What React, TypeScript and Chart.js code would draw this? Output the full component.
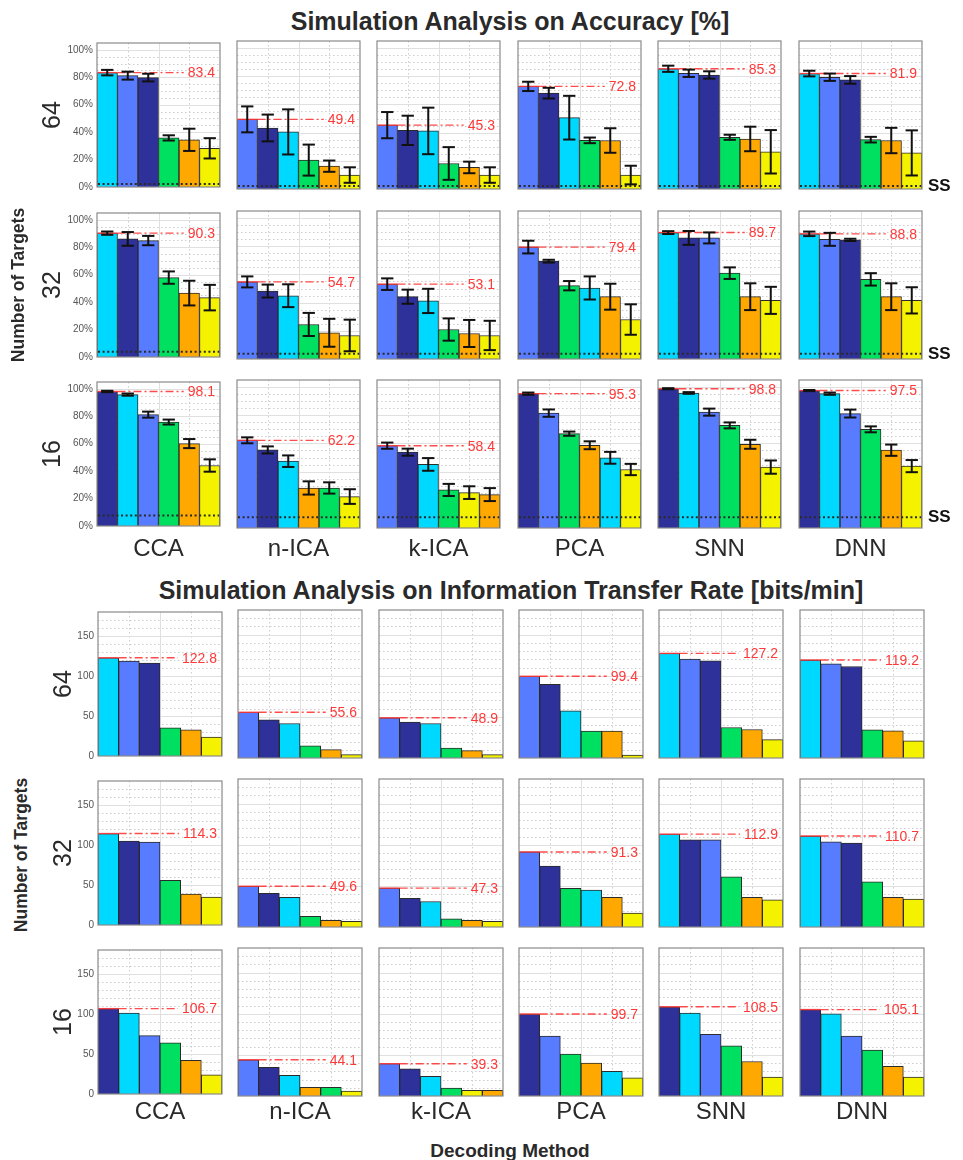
import React, { useEffect, useRef } from 'react';
import { Chart, registerables } from 'chart.js';

Chart.register(...registerables);

const FONT = '"Liberation Sans", Arial, Helvetica, sans-serif';
Chart.defaults.font.family = FONT;

// ---------------- data ----------------
const methods = ['CCA', 'n-ICA', 'k-ICA', 'PCA', 'SNN', 'DNN'];
const targetRows = ['64', '32', '16'];
const barSlots = ['1', '2', '3', '4', '5', '6'];
const ssLevels = [2.1, 3.8, 7.7];

// colour keys per panel (C cyan, B blue, N navy, G green, O orange, Y yellow)
const colors64 = ['CBNGOY', 'BNCGOY', 'BNCGOY', 'BNCGOY', 'CBNGOY', 'CBNGOY'];
const colors32 = ['CNBGOY', 'BNCGOY', 'BNCGOY', 'BNGCOY', 'CNBGOY', 'CBNGOY'];
const colors16 = ['NCBGOY', 'BNCOGY', 'BNCGYO', 'NBGOCY', 'NCBGOY', 'NCBGOY'];

// accuracy means [%]
const acc64 = [
  [83.4, 81.2, 79.8, 35.8, 34.4, 28.2],
  [49.4, 43.3, 40.5, 20.5, 16.2, 9.9],
  [45.3, 41.6, 41.2, 18.1, 15.3, 9.9],
  [72.8, 68.0, 50.6, 34.5, 34.4, 9.9],
  [85.3, 82.1, 80.9, 36.7, 35.5, 26.4],
  [81.9, 79.3, 77.4, 35.0, 34.4, 25.6],
];
const acc32 = [
  [90.3, 86.1, 84.9, 57.9, 46.6, 43.3],
  [54.7, 48.2, 44.9, 24.5, 18.6, 16.7],
  [53.1, 44.2, 41.2, 20.9, 18.1, 16.7],
  [79.4, 69.4, 52.0, 50.4, 44.2, 28.0],
  [89.7, 85.9, 85.9, 60.9, 44.2, 41.6],
  [88.8, 84.9, 84.5, 56.5, 44.2, 41.6],
];
const acc16 = [
  [98.1, 95.8, 81.2, 75.8, 60.1, 44.1],
  [62.2, 55.4, 47.4, 28.4, 28.4, 22.3],
  [58.4, 53.8, 45.1, 27.0, 25.1, 23.7],
  [95.3, 81.5, 66.9, 58.7, 49.8, 41.5],
  [98.8, 95.8, 82.2, 72.8, 59.4, 43.2],
  [97.5, 95.3, 81.2, 70.0, 55.2, 43.9],
];
// accuracy error half-lengths [%]
const err64 = [
  [2.0, 2.9, 2.8, 1.9, 8.1, 7.4],
  [9.2, 9.5, 16.0, 11.0, 4.0, 5.5],
  [9.3, 10.4, 16.5, 11.6, 4.1, 5.5],
  [3.3, 3.8, 15.5, 2.0, 8.7, 6.6],
  [2.2, 2.6, 2.6, 1.8, 8.7, 15.4],
  [2.0, 2.6, 2.7, 2.0, 9.0, 16.0],
];
const err32 = [
  [1.2, 5.0, 3.4, 4.5, 9.0, 9.3],
  [3.9, 4.6, 8.1, 8.2, 9.9, 11.2],
  [4.1, 5.0, 8.6, 7.9, 9.6, 10.4],
  [4.5, 1.0, 3.3, 8.2, 9.2, 10.8],
  [1.0, 4.9, 3.9, 4.1, 9.5, 9.6],
  [1.6, 4.6, 0.8, 4.4, 9.5, 9.3],
];
const err16 = [
  [0.5, 0.8, 2.2, 1.8, 3.3, 4.5],
  [2.1, 2.5, 4.1, 4.7, 4.0, 5.2],
  [2.2, 2.5, 4.5, 4.3, 4.5, 4.6],
  [0.8, 2.6, 1.5, 2.8, 4.2, 4.0],
  [0.4, 0.6, 2.5, 2.1, 3.2, 4.7],
  [0.4, 0.8, 2.8, 2.1, 4.0, 4.3],
];
// ITR [bits/min]
const itr64 = [
  [122.8, 118.6, 116.2, 35.1, 32.6, 23.6],
  [55.6, 46.5, 42.0, 14.7, 10.2, 4.1],
  [48.9, 43.6, 42.0, 12.2, 9.0, 4.1],
  [99.4, 89.7, 57.5, 32.8, 32.6, 3.7],
  [127.2, 120.3, 118.2, 37.1, 34.7, 22.4],
  [119.2, 114.6, 111.3, 34.2, 33.0, 20.8],
];
const itr32 = [
  [114.3, 104.8, 103.5, 55.9, 38.8, 35.0],
  [49.6, 41.0, 36.0, 13.0, 8.0, 7.0],
  [47.3, 35.0, 31.0, 10.0, 8.0, 7.0],
  [91.3, 74.0, 47.0, 45.0, 36.0, 17.0],
  [112.9, 106.0, 106.0, 61.0, 36.0, 33.0],
  [110.7, 103.5, 102.0, 55.0, 36.0, 34.0],
];
const itr16 = [
  [106.7, 101.0, 73.0, 64.0, 42.0, 24.0],
  [44.1, 35.0, 25.0, 10.5, 10.5, 6.0],
  [39.3, 33.0, 24.0, 9.5, 7.0, 7.0],
  [99.7, 73.0, 51.0, 40.0, 30.0, 22.0],
  [108.5, 101.0, 75.0, 61.0, 42.0, 23.0],
  [105.1, 100.0, 73.0, 56.0, 36.0, 23.0],
];

// ---------------- styles ----------------
const PALETTE: Record<string, string> = {
  C: '#00D9FF',
  B: '#587CFF',
  N: '#2E3199',
  G: '#00E060',
  O: '#FFA800',
  Y: '#F5F200',
};

const LEFT = 44;
const PAD_T = 8;
const PAD_B = 8;
const PAD_R = 2;

const ACC_LEFTS = [97, 237, 377, 518, 658, 799];
const ACC_TOPS = [41, 211, 380];
const ACC_W = 123;
const ACC_H = 148;

const ITR_LEFTS = [98, 238, 379, 519, 659, 800];
const ITR_TOPS = [610, 779, 948];
const ITR_W = 124;
const ITR_H = 148;

type PanelProps = {
  left: number;
  top: number;
  width: number;
  height: number;
  values: number[];
  errors?: number[];
  colorKeys: string;
  yMax: number;
  major: number;
  minor: number;
  showTicks: boolean;
  percent: boolean;
  ss?: number;
};

function Panel(p: PanelProps) {
  const ref = useRef<HTMLCanvasElement>(null);
  const w = p.width + LEFT + PAD_R;
  const h = p.height + PAD_T + PAD_B;

  useEffect(() => {
    if (!ref.current) return;
    const hline = (ctx: CanvasRenderingContext2D, x1: number, x2: number, y: number) => {
      ctx.beginPath();
      ctx.moveTo(x1, y);
      ctx.lineTo(x2, y);
      ctx.stroke();
    };
    const vline = (ctx: CanvasRenderingContext2D, x: number, y1: number, y2: number) => {
      ctx.beginPath();
      ctx.moveTo(x, y1);
      ctx.lineTo(x, y2);
      ctx.stroke();
    };
    const decor = {
      id: 'decor',
      beforeDatasetsDraw(chart: any) {
        const { ctx, chartArea: a } = chart;
        const y = chart.scales.y;
        ctx.save();
        ctx.lineWidth = 1;
        // minor horizontal grid
        ctx.strokeStyle = '#cdcdcd';
        ctx.setLineDash([1.5, 2.5]);
        for (let k = 1; k * p.minor < p.yMax - 1e-6; k++) {
          const v = k * p.minor;
          if (Math.abs(v / p.major - Math.round(v / p.major)) < 1e-6) continue;
          const py = Math.round(y.getPixelForValue(v)) + 0.5;
          hline(ctx, a.left, a.right, py);
        }
        // minor vertical grid
        [0.25, 0.75].forEach((f) => {
          const px = Math.round(a.left + (a.right - a.left) * f) + 0.5;
          vline(ctx, px, a.top, a.bottom);
        });
        // major grid
        ctx.setLineDash([]);
        ctx.strokeStyle = '#e0e0e0';
        for (let k = 1; k * p.major < p.yMax - 1e-6; k++) {
          const py = Math.round(y.getPixelForValue(k * p.major)) + 0.5;
          hline(ctx, a.left, a.right, py);
        }
        const mx = Math.round(a.left + (a.right - a.left) * 0.5) + 0.5;
        vline(ctx, mx, a.top, a.bottom);
        ctx.restore();
      },
      afterDatasetsDraw(chart: any) {
        const { ctx, chartArea: a } = chart;
        const y = chart.scales.y;
        const meta = chart.getDatasetMeta(0);
        ctx.save();
        // red best-value line
        const best = p.values[0];
        const by = y.getPixelForValue(best);
        const b0 = meta.data[0];
        const label = best.toFixed(1);
        ctx.font = `14px ${FONT}`;
        const tw = ctx.measureText(label).width;
        const tx = a.right - 5;
        ctx.strokeStyle = 'rgba(255,55,55,0.9)';
        ctx.lineWidth = 1.4;
        hline(ctx, b0.x - b0.width / 2, b0.x + b0.width / 2, by);
        ctx.setLineDash([8, 3, 2, 3]);
        hline(ctx, b0.x + b0.width / 2, tx - tw - 4, by);
        ctx.setLineDash([]);
        ctx.fillStyle = '#FF3838';
        ctx.textAlign = 'right';
        ctx.textBaseline = 'middle';
        ctx.fillText(label, tx, by + 1);

        // error bars
        if (p.errors) {
          ctx.strokeStyle = '#111';
          ctx.lineWidth = 2;
          meta.data.forEach((bar: any, i: number) => {
            const e = p.errors![i];
            const y1 = y.getPixelForValue(p.values[i] + e);
            const y2 = y.getPixelForValue(p.values[i] - e);
            const cw = bar.width * 0.3;
            vline(ctx, bar.x, y1, y2);
            hline(ctx, bar.x - cw, bar.x + cw, y1);
            hline(ctx, bar.x - cw, bar.x + cw, y2);
          });
        }
        // chance (SS) line
        if (p.ss !== undefined) {
          const sy = y.getPixelForValue(p.ss);
          ctx.strokeStyle = '#2a2a2a';
          ctx.lineWidth = 2;
          ctx.setLineDash([2, 2.6]);
          hline(ctx, a.left + 1, a.right, sy);
          ctx.setLineDash([]);
        }
        // frame
        ctx.strokeStyle = '#8a8a8a';
        ctx.lineWidth = 1.2;
        ctx.strokeRect(a.left, a.top, a.right - a.left, a.bottom - a.top);
        ctx.restore();
      },
    };

    const chart = new Chart(ref.current, {
      type: 'bar',
      data: {
        labels: barSlots,
        datasets: [
          {
            data: p.values,
            backgroundColor: p.colorKeys.split('').map((k) => PALETTE[k]),
            borderColor: '#2b2b2b',
            borderWidth: 1,
            barPercentage: 1,
            categoryPercentage: 1,
          },
        ],
      },
      options: {
        animation: false,
        responsive: false,
        devicePixelRatio: 1,
        layout: { padding: { top: PAD_T, bottom: PAD_B, left: 0, right: PAD_R } },
        plugins: {
          legend: { display: false },
          tooltip: { enabled: false },
          title: { display: false },
        },
        scales: {
          x: { display: false },
          y: {
            min: 0,
            max: p.yMax,
            grid: { display: false, drawTicks: false },
            border: { display: false },
            ticks: {
              display: p.showTicks,
              stepSize: p.major,
              includeBounds: false,
              padding: 4,
              color: '#555',
              font: { size: 10, family: FONT },
              callback: (v: any) => {
                const n = Number(v);
                if (Math.abs(n / p.major - Math.round(n / p.major)) > 1e-6) return '';
                return p.percent ? `${n}%` : `${n}`;
              },
            },
            afterFit: (s: any) => {
              s.width = LEFT;
            },
          },
        },
      },
      plugins: [decor],
    } as any);
    return () => chart.destroy();
  }, []);

  return (
    <canvas
      ref={ref}
      width={w}
      height={h}
      style={{ position: 'absolute', left: p.left - LEFT, top: p.top - PAD_T, width: w, height: h }}
    />
  );
}

const textBase: React.CSSProperties = {
  position: 'absolute',
  fontFamily: FONT,
  whiteSpace: 'nowrap',
  color: '#2a2a2a',
};

function Centered({ x, y, size, bold, rotate, children, color }: any) {
  return (
    <div
      style={{
        ...textBase,
        left: x,
        top: y,
        fontSize: size,
        fontWeight: bold ? 'bold' : 'normal',
        color: color || textBase.color,
        lineHeight: 1,
        transform: `translate(-50%, -50%)${rotate ? ' rotate(-90deg)' : ''}`,
      }}
    >
      {children}
    </div>
  );
}

export default function App() {
  const accRows = [acc64, acc32, acc16];
  const errRows = [err64, err32, err16];
  const itrRows = [itr64, itr32, itr16];
  const colorRows = [colors64, colors32, colors16];

  const panels: React.ReactNode[] = [];
  for (let r = 0; r < 3; r++) {
    for (let c = 0; c < 6; c++) {
      panels.push(
        <Panel
          key={`a${r}${c}`}
          left={ACC_LEFTS[c]}
          top={ACC_TOPS[r]}
          width={ACC_W}
          height={ACC_H}
          values={accRows[r][c]}
          errors={errRows[r][c]}
          colorKeys={colorRows[r][c]}
          yMax={105}
          major={20}
          minor={5}
          showTicks={c === 0}
          percent={true}
          ss={ssLevels[r]}
        />
      );
      panels.push(
        <Panel
          key={`i${r}${c}`}
          left={ITR_LEFTS[c]}
          top={ITR_TOPS[r]}
          width={ITR_W}
          height={ITR_H}
          values={itrRows[r][c]}
          colorKeys={colorRows[r][c]}
          yMax={180}
          major={50}
          minor={10}
          showTicks={c === 0}
          percent={false}
        />
      );
    }
  }

  return (
    <div style={{ position: 'absolute', left: 0, top: 0, width: 963, height: 1160, background: '#fff', overflow: 'hidden' }}>
      <Centered x={510} y={21} size={25} bold>
        Simulation Analysis on Accuracy [%]
      </Centered>
      <Centered x={511} y={590} size={25} bold>
        Simulation Analysis on Information Transfer Rate [bits/min]
      </Centered>

      {panels}

      {targetRows.map((t, r) => (
        <Centered key={`ra${r}`} x={51} y={ACC_TOPS[r] + ACC_H / 2} size={25} rotate>
          {t}
        </Centered>
      ))}
      {targetRows.map((t, r) => (
        <Centered key={`ri${r}`} x={62} y={ITR_TOPS[r] + ITR_H / 2} size={25} rotate>
          {t}
        </Centered>
      ))}
      <Centered x={19} y={285} size={17.5} bold rotate>
        Number of Targets
      </Centered>
      <Centered x={22} y={855} size={17.5} bold rotate>
        Number of Targets
      </Centered>

      {methods.map((m, c) => (
        <Centered key={`ma${c}`} x={ACC_LEFTS[c] + ACC_W / 2} y={548} size={24}>
          {m}
        </Centered>
      ))}
      {methods.map((m, c) => (
        <Centered key={`mi${c}`} x={ITR_LEFTS[c] + ITR_W / 2} y={1111} size={24}>
          {m}
        </Centered>
      ))}

      {ssLevels.map((s, r) => (
        <div
          key={`ss${r}`}
          style={{
            ...textBase,
            left: 928,
            top: ACC_TOPS[r] + ACC_H * (1 - s / 105) - 10,
            fontSize: 17,
            fontWeight: 'bold',
            color: '#111',
            lineHeight: '20px',
          }}
        >
          SS
        </div>
      ))}

      <Centered x={510} y={1150} size={19} bold>
        Decoding Method
      </Centered>
    </div>
  );
}
